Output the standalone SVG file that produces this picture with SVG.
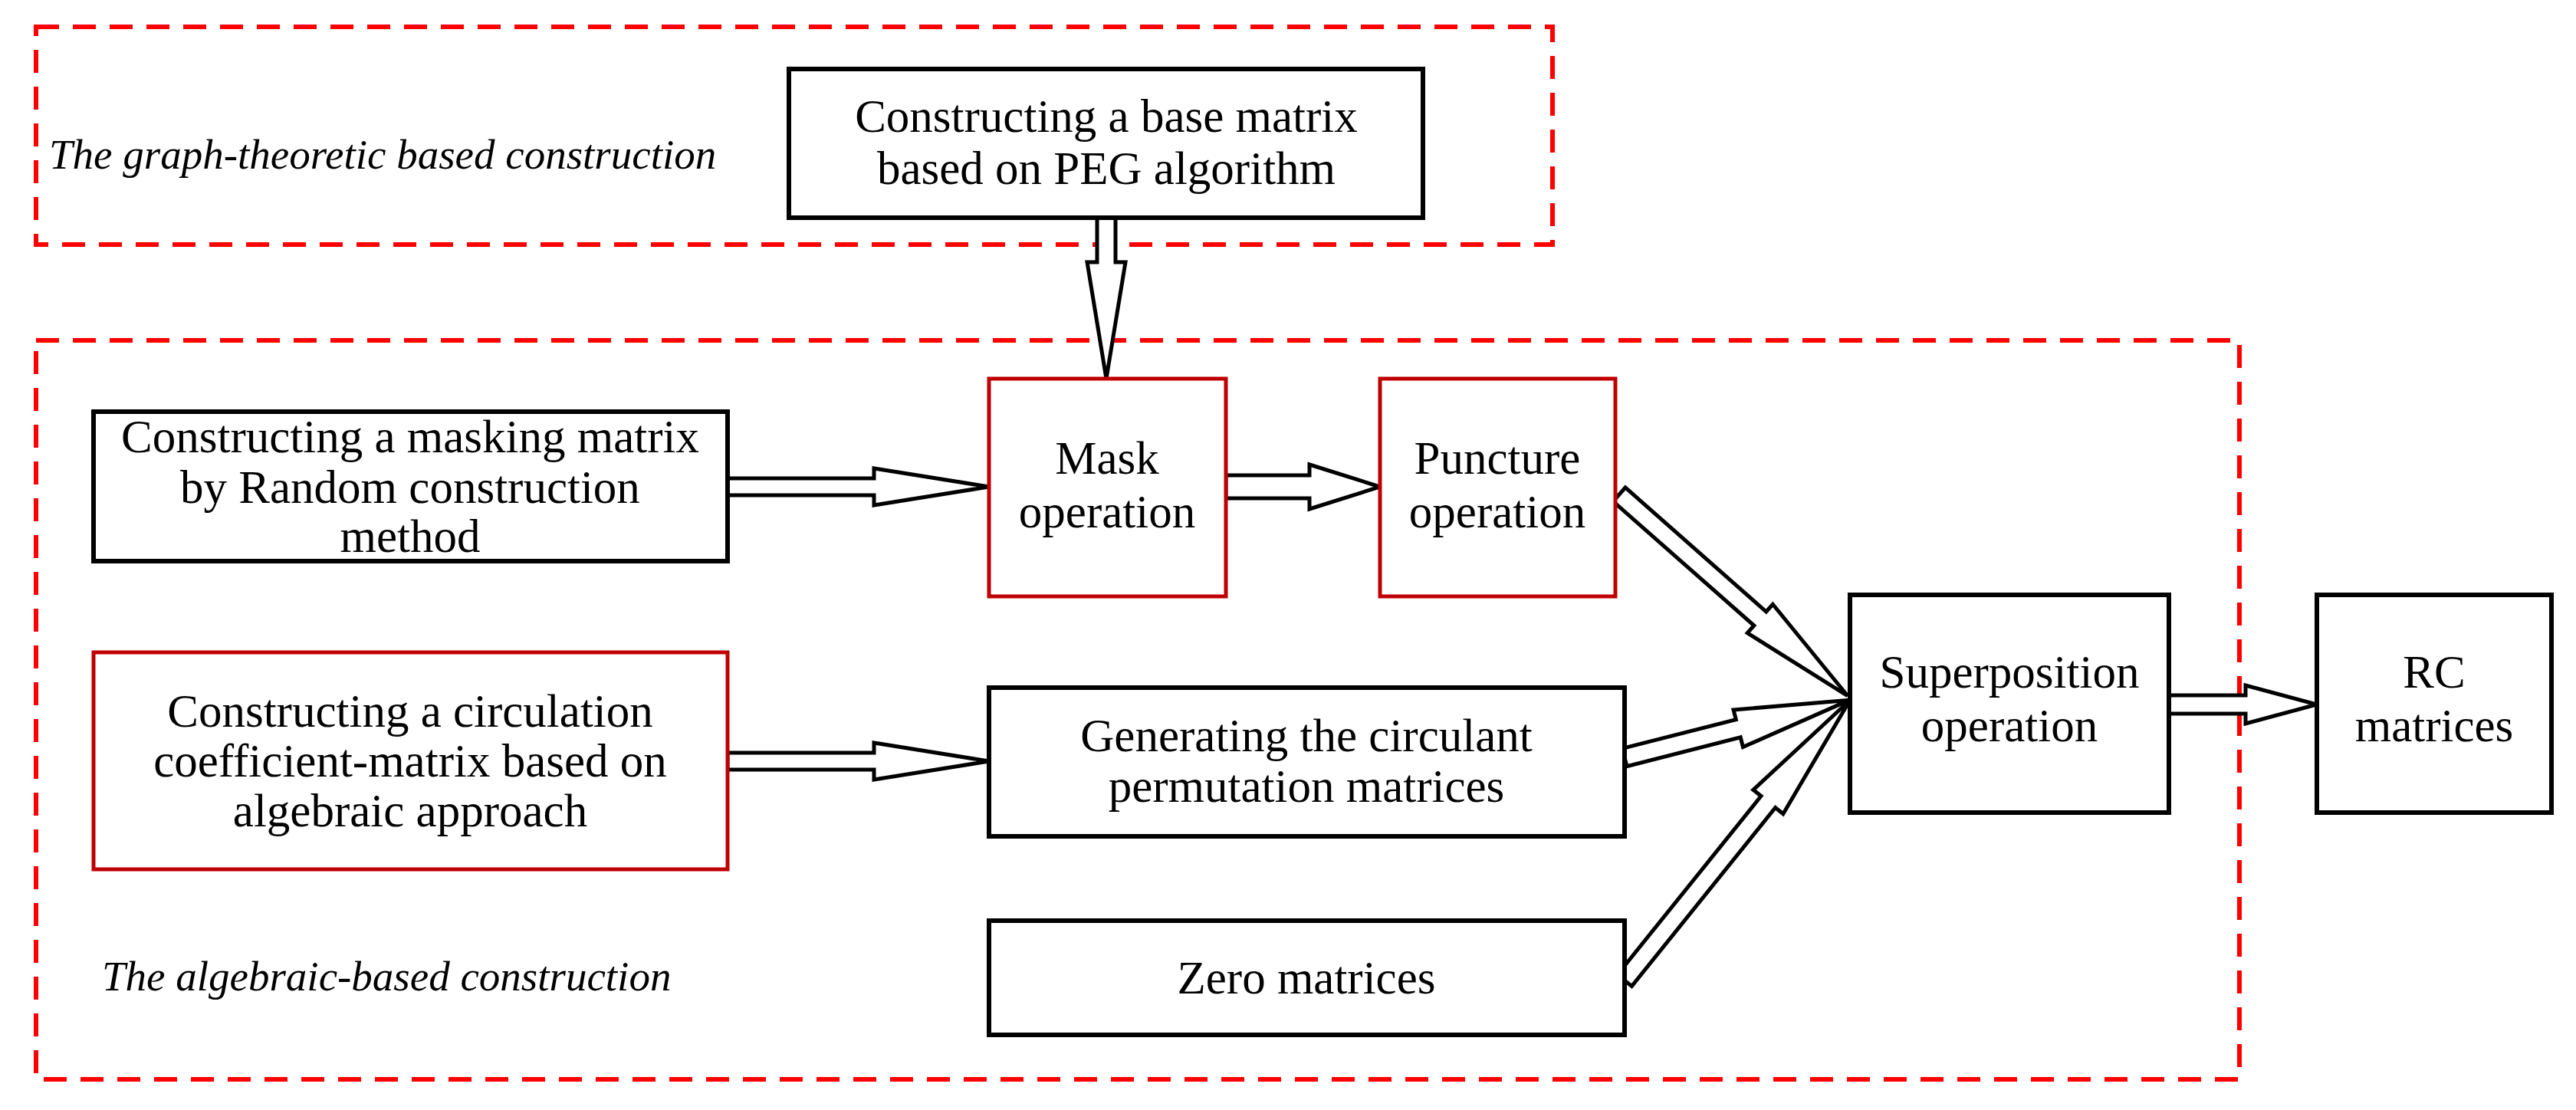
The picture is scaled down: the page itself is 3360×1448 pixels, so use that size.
<svg xmlns="http://www.w3.org/2000/svg" width="3360" height="1448" viewBox="0 0 3360 1448">
<style>
text{font-family:"Liberation Serif","DejaVu Serif",serif;font-size:61px;fill:#000;text-anchor:middle}
.lbl{font-style:italic;text-anchor:start;font-size:55px}
.box{fill:#fff;stroke:#000;stroke-width:6}
.red{fill:#fff;stroke:#C00000;stroke-width:5}
.dash{fill:none;stroke:#FF0000;stroke-width:6;stroke-dasharray:30 18}
.arr{fill:#fff;stroke:#000;stroke-width:5;stroke-linejoin:miter}
</style>
<rect class="dash" x="47" y="35" width="1978" height="284"/>
<rect class="dash" x="47" y="444" width="2874" height="964"/>
<text class="lbl" x="64" y="220">The graph-theoretic based construction</text>
<text class="lbl" x="133" y="1292">The algebraic-based construction</text>
<g id="connectors">
<polygon class="arr" transform="translate(1443,284) rotate(90)" points="0,-12 58,-12 58,-25 210,0 58,25 58,12 0,12"/>
<polygon class="arr" transform="translate(949,635)" points="0,-11 191,-11 191,-24 341,0 191,24 191,11 0,11"/>
<polygon class="arr" transform="translate(1599,635)" points="0,-15 109,-15 109,-29 201,0 109,29 109,15 0,15"/>
<polygon class="arr" transform="translate(949,993)" points="0,-11 191,-11 191,-24 341,0 191,24 191,11 0,11"/>
<polygon class="arr" transform="translate(2829,919)" points="0,-12 100,-12 100,-25 193,0 100,25 100,12 0,12"/>
<polygon class="arr" transform="translate(2112,645) rotate(41.4)" points="0,-12 245,-12 245,-25 397,0 245,25 245,12 0,12"/>
<polygon class="arr" transform="translate(2119,988) rotate(-14.3)" points="0,-12 153,-12 153,-25 303,0 153,25 153,12 0,12"/>
<polygon class="arr" transform="translate(2119,1279) rotate(-51.2)" points="0,-12 299,-12 299,-25 469,0 299,25 299,12 0,12"/>
</g>
<g id="base"><rect class="box" x="1029" y="90" width="827" height="194"/>
<text x="1443" y="172">Constructing a base matrix</text><text x="1443" y="240">based on PEG algorithm</text></g>
<g id="masking"><rect class="box" x="122" y="537" width="827" height="195"/>
<text x="535" y="590">Constructing a masking matrix</text><text x="535" y="656">by Random construction</text><text x="535" y="720">method</text></g>
<g id="mask"><rect class="red" x="1290" y="494" width="309" height="284"/>
<text x="1444" y="618">Mask</text><text x="1444" y="688">operation</text></g>
<g id="puncture"><rect class="red" x="1800" y="494" width="307" height="284"/>
<text x="1953" y="618">Puncture</text><text x="1953" y="688">operation</text></g>
<g id="circulation"><rect class="red" x="122" y="851" width="827" height="283"/>
<text x="535" y="948">Constructing a circulation</text><text x="535" y="1013">coefficient-matrix based on</text><text x="535" y="1078">algebraic approach</text></g>
<g id="generating"><rect class="box" x="1290" y="897" width="829" height="194"/>
<text x="1704" y="980">Generating the circulant</text><text x="1704" y="1046">permutation matrices</text></g>
<g id="zero"><rect class="box" x="1290" y="1201" width="829" height="149"/>
<text x="1704" y="1296">Zero matrices</text></g>
<g id="superposition"><rect class="box" x="2413" y="776" width="416" height="284"/>
<text x="2621" y="897">Superposition</text><text x="2621" y="967">operation</text></g>
<g id="rc"><rect class="box" x="3022" y="776" width="306" height="284"/>
<text x="3175" y="897">RC</text><text x="3175" y="967">matrices</text></g>
</svg>
